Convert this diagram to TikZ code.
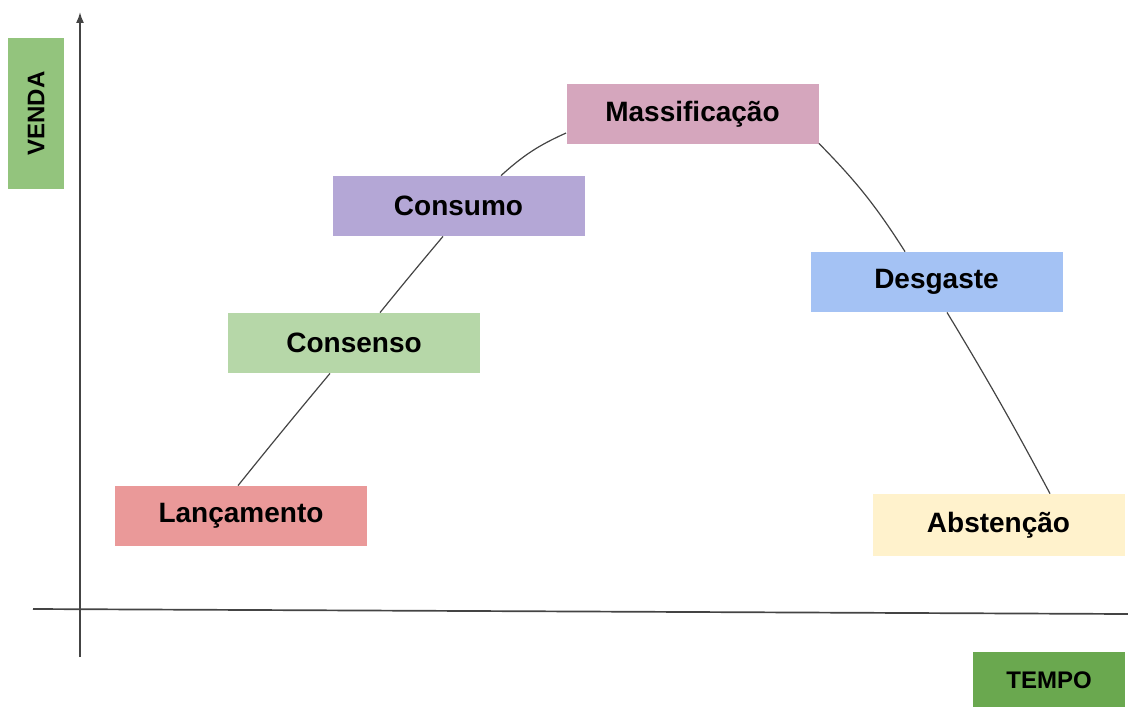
\documentclass[tikz,border=0pt]{standalone}
\usepackage{fontspec}
\setmainfont{Liberation Sans}
\usetikzlibrary{calc,arrows.meta}
\definecolor{cVenda}{HTML}{93C47D}
\definecolor{cTempo}{HTML}{6AA84F}
\definecolor{cLanc}{HTML}{EA9999}
\definecolor{cCons}{HTML}{B6D7A8}
\definecolor{cConsumo}{HTML}{B4A7D6}
\definecolor{cMassa}{HTML}{D5A6BD}
\definecolor{cDesg}{HTML}{A4C2F4}
\definecolor{cAbst}{HTML}{FFF2CC}
\definecolor{cLine}{HTML}{444444}
\tikzset{
  stage/.style={minimum width=126pt, minimum height=30pt, inner sep=0pt,
    font=\fontsize{14}{16}\selectfont\bfseries, text=black},
  axlabel/.style={inner sep=0pt, font=\fontsize{12}{14}\selectfont\bfseries, text=black},
  axisline/.style={draw=cLine, line width=0.85pt},
  curveline/.style={draw=cLine, line width=0.6pt},
}
\begin{document}
\begin{tikzpicture}[x=0.5pt,y=-0.5pt]
\useasboundingbox (0,0) rectangle (1128,706);
% axes
\coordinate (ybot) at (80,657);
\coordinate (ytop) at (80,12);
\coordinate (xleft) at (33,609);
\coordinate (xright) at (1128,614);
\draw[axisline,-{Latex[length=5.5pt,width=4pt]}] (ybot) -- (ytop);
\draw[axisline] (xleft) -- (xright);
% axis labels
\node[axlabel, fill=cVenda, minimum width=75.5pt, minimum height=28pt, rotate=90] (venda) at (36,113.5) {VENDA};
\node[axlabel, fill=cTempo, minimum width=76pt, minimum height=28pt] (tempo) at (1049,680) {TEMPO};
% stages
\node[stage, fill=cLanc] (lanc) at (241,516) {Lançamento};
\node[stage, fill=cCons] (cons) at (354,343) {Consenso};
\node[stage, fill=cConsumo] (consumo) at (458.5,206) {Consumo};
\node[stage, fill=cMassa] (massa) at (692.5,114) {Massificação};
\node[stage, fill=cDesg] (desg) at (936.5,282) {Desgaste};
\node[stage, fill=cAbst, minimum height=31pt] (abst) at (998.5,525) {Abstenção};
% curve segments
\draw[curveline] ($(lanc.north)+(-3,0)$) to[bend left=0.5] ($(cons.south)+(-24,0)$);
\draw[curveline] ($(cons.north)+(26,0)$) to[bend left=0.5] ($(consumo.south)+(-15.5,0)$);
\draw[curveline] ($(consumo.north)+(42.5,0)$) to[bend left=9] ($(massa.west)+(0,19)$);
\draw[curveline] ($(massa.south east)+(0,-1)$) to[bend left=6] ($(desg.north)+(-31.5,0)$);
\draw[curveline] ($(desg.south)+(10.5,0)$) to[bend left=1.5] ($(abst.north)+(51.5,0)$);
\end{tikzpicture}
\end{document}
